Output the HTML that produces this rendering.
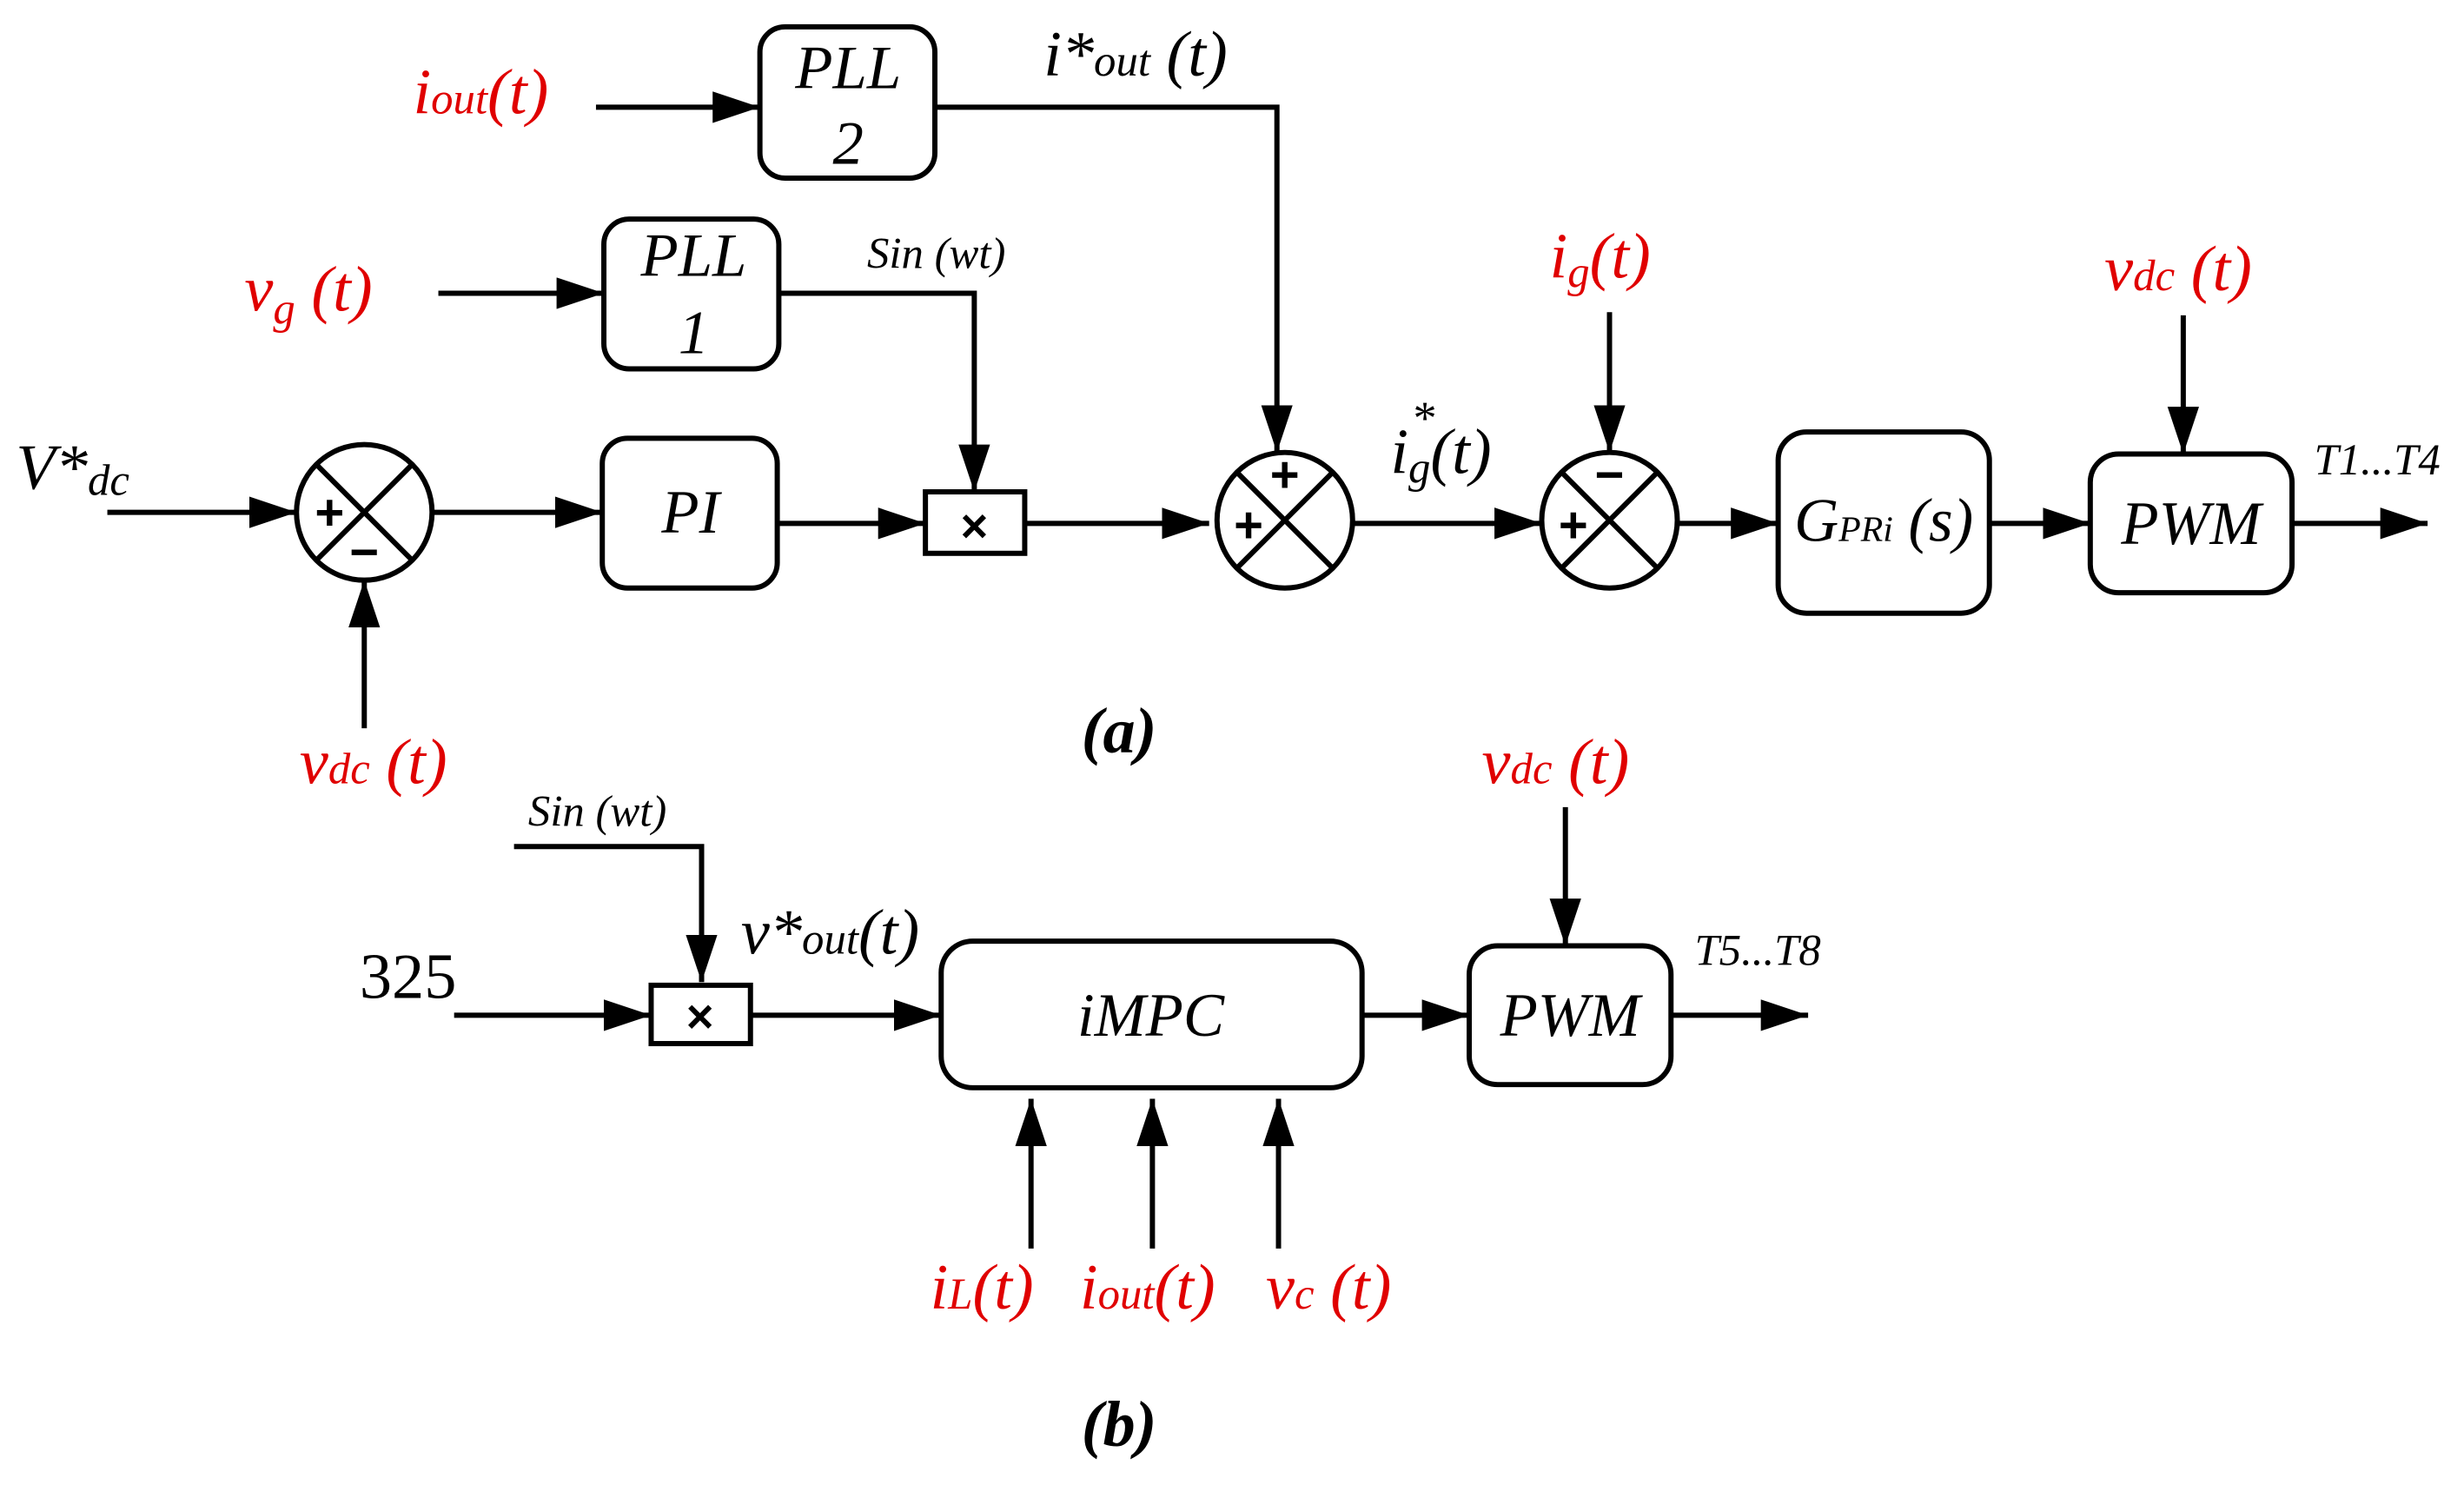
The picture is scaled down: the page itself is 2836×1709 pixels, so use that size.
<!DOCTYPE html>
<html><head><meta charset="utf-8"><style>
html,body{margin:0;padding:0;background:#fff}
svg{display:block}
text{font-family:"Liberation Serif",serif;font-style:italic}
.r{fill:#e00000}
.s{font-style:normal;font-family:"Liberation Sans",sans-serif;font-weight:bold}
</style></head><body>
<svg width="2836" height="1709" viewBox="0 0 1563 942" xmlns="http://www.w3.org/2000/svg">
<defs>
<marker id="a" viewBox="0 0 30 20" refX="30" refY="10" markerWidth="30" markerHeight="20" markerUnits="userSpaceOnUse" orient="auto">
<path d="M0,0 L30,10 L0,20 Z" fill="#000"/></marker>
</defs>
<g stroke="#000" stroke-width="3.3" fill="none">
<rect x="482" y="17" width="111" height="96" rx="16"/>
<rect x="383" y="139" width="111" height="95" rx="16"/>
<rect x="382" y="278" width="111" height="95" rx="16"/>
<rect x="587" y="312" width="63" height="39"/>
<rect x="1128" y="274" width="134" height="115" rx="18"/>
<rect x="1326" y="288" width="128" height="88" rx="18"/>
<circle cx="231" cy="325" r="43"/>
<line x1="201" y1="295" x2="261" y2="355"/><line x1="261" y1="295" x2="201" y2="355"/>
<circle cx="815" cy="330" r="43"/>
<line x1="785" y1="300" x2="845" y2="360"/><line x1="845" y1="300" x2="785" y2="360"/>
<circle cx="1021" cy="330" r="43"/>
<line x1="991" y1="300" x2="1051" y2="360"/><line x1="1051" y1="300" x2="991" y2="360"/>
<line x1="378" y1="68" x2="482" y2="68" marker-end="url(#a)"/>
<polyline points="593,68 810,68 810,287" marker-end="url(#a)"/>
<line x1="278" y1="186" x2="383" y2="186" marker-end="url(#a)"/>
<polyline points="494,186 618,186 618,312" marker-end="url(#a)"/>
<line x1="68" y1="325" x2="188" y2="325" marker-end="url(#a)"/>
<line x1="231" y1="462" x2="231" y2="368" marker-end="url(#a)"/>
<line x1="275" y1="325" x2="382" y2="325" marker-end="url(#a)"/>
<line x1="494" y1="332" x2="587" y2="332" marker-end="url(#a)"/>
<line x1="650" y1="332" x2="767" y2="332" marker-end="url(#a)"/>
<line x1="858" y1="332" x2="978" y2="332" marker-end="url(#a)"/>
<line x1="1021" y1="198" x2="1021" y2="287" marker-end="url(#a)"/>
<line x1="1064" y1="332" x2="1128" y2="332" marker-end="url(#a)"/>
<line x1="1262" y1="332" x2="1326" y2="332" marker-end="url(#a)"/>
<line x1="1385" y1="200" x2="1385" y2="288" marker-end="url(#a)"/>
<line x1="1454" y1="332" x2="1540" y2="332" marker-end="url(#a)"/>
<rect x="413" y="625" width="63" height="37"/>
<rect x="597" y="597" width="267" height="93" rx="20"/>
<rect x="932" y="600" width="128" height="88" rx="18"/>
<polyline points="326,537 445,537 445,623" marker-end="url(#a)"/>
<line x1="288" y1="644" x2="413" y2="644" marker-end="url(#a)"/>
<line x1="476" y1="644" x2="597" y2="644" marker-end="url(#a)"/>
<line x1="864" y1="644" x2="932" y2="644" marker-end="url(#a)"/>
<line x1="993" y1="512" x2="993" y2="600" marker-end="url(#a)"/>
<line x1="1060" y1="644" x2="1147" y2="644" marker-end="url(#a)"/>
<line x1="654" y1="792" x2="654" y2="697" marker-end="url(#a)"/>
<line x1="731" y1="792" x2="731" y2="697" marker-end="url(#a)"/>
<line x1="811" y1="792" x2="811" y2="697" marker-end="url(#a)"/>
</g>
<g font-size="32" text-anchor="middle">
<text class="s" x="209" y="336">+</text>
<text class="s" x="231" y="361">−</text>
<text class="s" x="815" y="312">+</text>
<text class="s" x="792" y="344">+</text>
<text class="s" x="998" y="344">+</text>
<text class="s" x="1021" y="312">−</text>
<text class="s" x="618" y="344" font-size="30">×</text>
<text class="s" x="444" y="655" font-size="30">×</text>
</g>
<g font-size="39" text-anchor="middle">
<text x="538" y="56">PLL</text><text x="538" y="104">2</text>
<text x="440" y="175">PLL</text><text x="440" y="224">1</text>
<text x="438" y="338">PI</text>
<text x="1195" y="343">G<tspan font-size="23">PRi</tspan> (s)</text>
<text x="1390" y="345">PWM</text>
<text x="730" y="657">iMPC</text>
<text x="996" y="657">PWM</text>
</g>
<g font-size="41">
<text class="r" x="262" y="72">i<tspan font-size="28">out</tspan>(t)</text>
<text x="662" y="48">i*<tspan font-size="28">out</tspan> (t)</text>
<text class="r" x="155" y="197">v<tspan font-size="28" dy="8">g</tspan><tspan dy="-8"> (t)</tspan></text>
<text x="10" y="310">V*<tspan font-size="28" dy="4">dc</tspan></text>
<text class="r" x="190" y="497">v<tspan font-size="28">dc</tspan> (t)</text>
<text x="882" y="300">i<tspan font-size="28" dy="6">g</tspan><tspan dy="-6">(t)</tspan></text>
<text x="895" y="275" font-size="30">*</text>
<text class="r" x="983" y="176">i<tspan font-size="28" dy="6">g</tspan><tspan dy="-6">(t)</tspan></text>
<text class="r" x="1335" y="184">v<tspan font-size="28">dc</tspan> (t)</text>
<text x="686" y="477" font-weight="bold">(a)</text>
<text class="r" x="940" y="497">v<tspan font-size="28">dc</tspan> (t)</text>
<text x="228" y="633" style="font-style:normal">325</text>
<text x="470" y="605">v*<tspan font-size="28">out</tspan>(t)</text>
<text class="r" x="590" y="830">i<tspan font-size="28">L</tspan>(t)</text>
<text class="r" x="685" y="830">i<tspan font-size="28">out</tspan>(t)</text>
<text class="r" x="803" y="830">v<tspan font-size="28">c</tspan> (t)</text>
<text x="686" y="917" font-weight="bold">(b)</text>
</g>
<g font-size="28">
<text x="550" y="170">Sin (wt)</text>
<text x="335" y="524">Sin (wt)</text>
<text x="1468" y="301">T1...T4</text>
<text x="1075" y="612">T5...T8</text>
</g>
</svg>
</body></html>
